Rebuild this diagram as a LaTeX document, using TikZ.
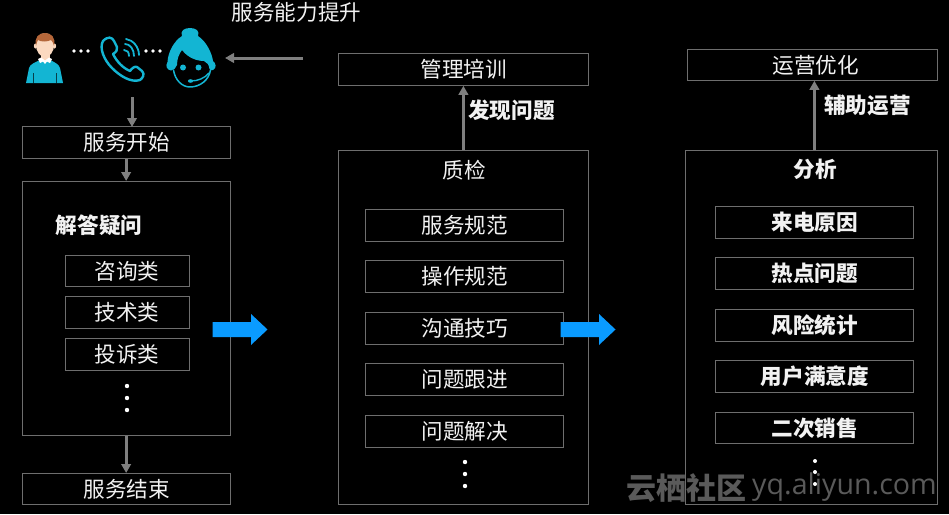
\documentclass[tikz,border=0pt]{standalone}
\usepackage{fontspec}
\setmainfont{Noto Sans CJK SC}
\newfontfamily\wm{Open Sans}
\usetikzlibrary{arrows.meta}
\tikzset{
 x=1pt,y=-1pt,
 box/.style={draw=boxgrey,line width=0.8pt,inner sep=0pt,text=textwhite,font=\fontsize{21.6}{22}\selectfont,anchor=north west},
 bbox/.style={box,font=\fontsize{21.6}{22}\selectfont\bfseries},
 flow/.style={draw=arrowgrey,line width=3pt,-{Triangle[length=9pt,width=9.5pt]}},
 dotmark/.style={circle,fill=white,inner sep=0pt,minimum size=4.4pt},
 bigarrow/.style={fill=arrowblue,draw=none},
 cyanfill/.style={fill=iconcyan,draw=none},
 cyanline/.style={draw=iconcyan,line cap=round,line join=round},
 label/.style={text=textwhite,font=\fontsize{21.6}{22}\selectfont,inner sep=0pt},
 blabel/.style={label,font=\fontsize{21.6}{22}\selectfont\bfseries},
}
\definecolor{boxgrey}{HTML}{6E6E6E}
\definecolor{arrowgrey}{HTML}{7F7F7F}
\definecolor{textwhite}{HTML}{F2F2F2}
\definecolor{arrowblue}{HTML}{0A9BFF}
\definecolor{iconcyan}{HTML}{13B5D3}
\definecolor{wmgrey}{HTML}{5A5A5A}
\definecolor{skintone}{HTML}{FBD9C0}
\definecolor{hairtone}{HTML}{B5673A}
\newcommand{\bx}[7]{\node[#1,minimum width=#4pt,minimum height=#5pt] (#2) at (#3,#6) {#7};}
\begin{document}
\begin{tikzpicture}
\useasboundingbox[fill=black] (0,0) rectangle (949,514);
% left column
\bx{box}{start}{22}{207.5}{32}{126}{\hspace*{1pt}服务开始}
\bx{box}{leftbig}{22}{207.5}{254}{181}{}
\bx{box}{finish}{22}{207.5}{31}{473}{\hspace*{1pt}服务结束}
\node[blabel] (lefttitle) at (99,225) {解答疑问};
\bx{box}{l1}{64.5}{124}{31}{255}{咨询类}
\bx{box}{l2}{64.5}{124}{32}{296}{技术类}
\bx{box}{l3}{64.5}{124}{32}{338}{投诉类}
\foreach \n/\y in {a/386,b/398,c/410}{\node[dotmark] (ld\n) at (127,\y) {};}
% middle column
\bx{box}{train}{338}{250}{32}{53}{\hspace*{1pt}管理培训}
\bx{box}{midbig}{338}{250}{354}{150}{}
\node[label] (midtitle) at (464,170) {质检};
\bx{box}{m1}{365}{198}{32}{209}{\hspace*{1pt}服务规范}
\bx{box}{m2}{365}{198}{32}{260}{\hspace*{1pt}操作规范}
\bx{box}{m3}{365}{198}{32}{312}{\hspace*{1pt}沟通技巧}
\bx{box}{m4}{365}{198}{32}{363}{\hspace*{1pt}问题跟进}
\bx{box}{m5}{365}{198}{32}{415}{\hspace*{1pt}问题解决}
\foreach \n/\y in {a/462,b/474,c/486}{\node[dotmark] (md\n) at (465,\y) {};}
\node[blabel] (found) at (511.5,110) {发现问题};
% right column
\bx{box}{opt}{687}{250}{31}{49}{\hspace*{7pt}运营优化}
\bx{box}{rightbig}{685}{252}{354}{150}{}
\node[blabel] (righttitle) at (815,169) {分析};
\bx{bbox}{r1}{715}{198}{32}{206}{\hspace*{1pt}来电原因}
\bx{bbox}{r2}{715}{198}{32}{257}{\hspace*{1pt}热点问题}
\bx{bbox}{r3}{715}{198}{32}{309}{\hspace*{1pt}风险统计}
\bx{bbox}{r4}{715}{198}{32}{360}{\hspace*{1pt}用户满意度}
\bx{bbox}{r5}{715}{198}{31}{412}{\hspace*{1pt}二次销售}
\foreach \n/\y in {a/461,b/472,c/484}{\node[dotmark,minimum size=4pt] (rd\n) at (815,\y) {};}
\node[blabel] (assist) at (867.5,105) {辅助运营};
% top label
\node[label] (improve) at (296.5,12) {服务能力提升};
% connectors
\coordinate (iconsbase) at (132,97);
\coordinate (improvefrom) at (303,58);
\coordinate (agentedge) at (225,58);
\draw[flow] (iconsbase) -- (132,127);
\draw[flow] (start.south) -- (leftbig.north);
\draw[flow] (leftbig.south) -- (finish.north);
\draw[flow] (improvefrom) -- (agentedge);
\draw[flow] (midbig.north) -- (train.south);
\draw[flow] (r1.center |- rightbig.north) -- (r1.center |- opt.south);
% blue arrows
\foreach \dx in {0,348}{
 \fill[bigarrow] (212.5+\dx,322) -- (251+\dx,322) -- (251+\dx,314) -- (267.5+\dx,329.5) -- (251+\dx,345) -- (251+\dx,337) -- (212.5+\dx,337) -- cycle;
}
% person icon
\fill[cyanfill] (26,83) -- (29,68) .. controls (30,64) and (36,62) .. (40,60) -- (50,60) .. controls (54,62) and (59,64) .. (60,68) -- (63,83) -- cycle;
\fill[fill=black] (33,73) rectangle (33.7,83) (56,73) rectangle (56.7,83);
\fill[fill=skintone] (41,50) rectangle (50,61);
\fill[fill=skintone] (35.5,46) ellipse (1.6 and 2.5) (54.5,46) ellipse (1.6 and 2.5);
\fill[fill=skintone] (45,45) ellipse (9 and 12);
\fill[fill=white] (38,59) -- (41,57.5) -- (45,60.5) -- (49,57.5) -- (52,59) -- (50,63) -- (47,61.5) -- (45,64) -- (43,61.5) -- (40,63) -- cycle;
\fill[fill=hairtone] (36,46) .. controls (34,37) and (39,33) .. (45,33) .. controls (51,33) and (56,37) .. (54,46) .. controls (53,42) and (52,41) .. (51,40) .. controls (47,42) and (41,42) .. (38,40) .. controls (37,42) and (36.5,43) .. (36,46) -- cycle;
\foreach \x in {74,81,88}{\fill[white] (\x,51) circle (1.9);}
% phone icon
\draw[cyanline,line width=2.4pt] (103,41) .. controls (108,36) and (112,37) .. (114,41) -- (117,47) .. controls (118,50) and (116,52) .. (113,54) .. controls (117,62) and (123,68) .. (130,71) .. controls (132,68) and (135,66) .. (137,67) -- (142,71) .. controls (145,74) and (143,78) .. (140,80) .. controls (131,83) and (120,76) .. (112,68) .. controls (104,60) and (99,48) .. (103,41) -- cycle;
\draw[cyanline,line width=1.8pt] (124,50) .. controls (127,50) and (129,52) .. (129,56);
\draw[cyanline,line width=1.8pt] (125,44) .. controls (130,44) and (134,49) .. (134,56);
\draw[cyanline,line width=1.8pt] (126,39) .. controls (133,40) and (139,47) .. (139,55);
\foreach \x in {146,153,160}{\fill[white] (\x,51) circle (1.9);}
% agent icon
\fill[cyanfill] (190,28) .. controls (196,28) and (200,31) .. (198,36) .. controls (206,41) and (212,53) .. (213,61) .. controls (216,63) and (217,68) .. (213,70) .. controls (212,71) and (210,70) .. (209.5,69) .. controls (209,65) and (207,62) .. (204,61) .. controls (197,61) and (188,58) .. (182,50) .. controls (179,54) and (177,59) .. (177,65) .. controls (176,68) and (174,70) .. (171,70.5) .. controls (167,70) and (165,66) .. (167.5,62) .. controls (168,52) and (174,41) .. (182,36) .. controls (180,31) and (184,28) .. (190,28) -- cycle;
\fill[iconcyan] (183,67.5) circle (3) (198.5,67.5) circle (3);
\draw[cyanline,line width=1.5pt] (173.5,70) .. controls (175,80) and (182,87) .. (190,87) .. controls (200,87) and (209,80) .. (210.5,70);
\draw[cyanline,line width=1.4pt] (191,81) .. controls (198,81) and (205,78) .. (209,73);
\fill[iconcyan] (190.5,81) ellipse (2.6 and 1.8);
% watermark
\node[text=wmgrey,inner sep=0pt,anchor=west,font=\fontsize{30}{30}\selectfont\bfseries] (wmcn) at (626,488) {云栖社区};
\node[text=wmgrey,inner sep=0pt,anchor=west,font=\wm\fontsize{28.6}{29}\selectfont] (wmen) at (752,487.5) {yq.aliyun.com};
\end{tikzpicture}
\end{document}
